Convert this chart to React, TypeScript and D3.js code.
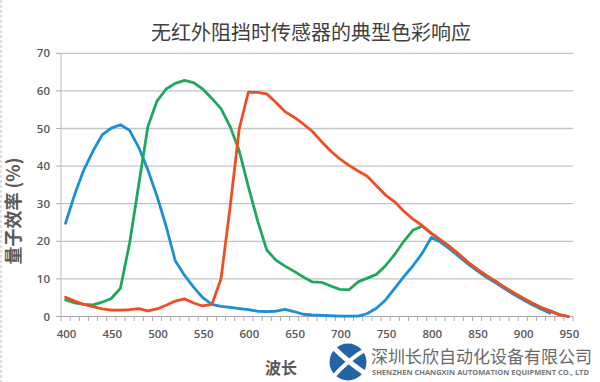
import React from "react";
import * as d3 from "d3";

const wavelengths = [400,410,420,430,440,450,460,470,480,490,500,510,520,530,540,550,560,570,580,590,600,610,620,630,640,650,660,670,680,690,700,710,720,730,740,750,760,770,780,790,800,810,820,830,840,850,860,870,880,890,900,910,920,930,940,950];

const blueValues: (number | null)[] = [24.8,32.5,39,44,48.3,50.1,51,49.5,45,39,32,24,14.8,11,7.8,5,3.2,2.7,2.4,2.1,1.8,1.4,1.3,1.4,1.9,1.3,0.6,0.4,0.3,0.2,0.1,0.1,0.1,0.8,2.2,4.4,7.5,10.6,13.5,16.8,21,19.8,18,16,14,12.2,10.5,9,7.4,5.9,4.5,3.2,2,0.9,null,null];

const greenValues: (number | null)[] = [4.4,3.6,3.2,3.1,3.8,4.8,7.5,19.5,35,50.5,57.3,60.5,62,62.8,62.2,60.5,58,55.3,50.5,44,34.5,25.5,17.7,15,13.4,12,10.5,9.2,9.1,8.1,7.2,7.1,9.2,10.2,11.2,13.5,16.5,20,23,24,22.1,20.4,18.6,16.6,14.4,12.6,10.9,9.4,7.8,6.3,4.9,3.6,2.4,1.5,0.5,0];

const redValues: (number | null)[] = [5.1,4.1,3.2,2.6,2.0,1.7,1.7,1.8,2.1,1.5,2.0,3.0,4.1,4.7,3.6,2.8,3.2,10,29.2,50,59.7,59.6,59.2,57,54.5,53,51.2,49.2,46.5,44,41.9,40.2,38.7,37.3,34.8,32.3,30.5,28,25.9,24.2,22.1,20.4,18.6,16.6,14.4,12.6,10.9,9.4,7.8,6.3,4.9,3.6,2.4,1.5,0.5,0];

const yTicks = [0,10,20,30,40,50,60,70];
const xTickLabels = [400,450,500,550,600,650,700,750,800,850,900,950];
const xMinorTicks = [395,405,415,425,435,445,455,465,475,485,495,505,515,525,535,545,555,565,575,585,595,605,615,625,635,645,655,665,675,685,695,705,715,725,735,745,755,765,775,785,795,805,815,825,835,845,855,865,875,885,895,905,915,925,935,945,955];

const series = [
  { name: "blue", values: blueValues, color: "#1d8fd3" },
  { name: "green", values: greenValues, color: "#1fa85c" },
  { name: "red", values: redValues, color: "#ef4d23" },
];

const title = "无红外阻挡时传感器的典型色彩响应";
const yTitle = "量子效率 (%)";
const xTitle = "波长";
const company = "深圳长欣自动化设备有限公司";
const companyEn = "SHENZHEN CHANGXIN AUTOMATION EQUIPMENT CO., LTD";

export default function App() {
  const W = 600, H = 382;
  const x = d3.scaleLinear().domain([395, 955]).range([61, 573]);
  const y = d3.scaleLinear().domain([0, 70]).range([316.5, 53.3]);
  const line = d3
    .line<number | null>()
    .defined((d) => d !== null)
    .x((_, i) => x(wavelengths[i]))
    .y((d) => y(d as number));

  const cjk = "'Noto Sans CJK SC', 'Noto Sans', sans-serif";
  const num = "'Open Sans', 'Noto Sans', sans-serif";

  return (
    <svg
      width={W}
      height={H}
      style={{ position: "absolute", left: 0, top: 0, background: "#fff" }}
    >
      <rect x={0} y={0} width={W} height={H} fill="#fff" />
      <line x1={1} x2={1} y1={0} y2={H} stroke="#bbb" strokeDasharray="3,2" />
      <text x={311} y={40} textAnchor="middle" fontFamily={cjk} fontSize={20} fill="#404040">
        {title}
      </text>

      {yTicks.map((t) => (
        <g key={t}>
          {t > 0 && (
            <line x1={61} x2={573} y1={y(t)} y2={y(t)} stroke="#c4c4c4" strokeWidth={1.3} />
          )}
          <line x1={56} x2={61} y1={y(t)} y2={y(t)} stroke="#aaa" />
          <text x={50} y={y(t) + 4} textAnchor="end" fontFamily={num} fontSize={11.5} fontWeight={600} fill="#595959">
            {t}
          </text>
        </g>
      ))}
      <line x1={61} x2={61} y1={53.3} y2={316.5} stroke="#bbb" />
      <line x1={61} x2={573} y1={316.5} y2={316.5} stroke="#aaa" strokeWidth={1.2} />
      {xMinorTicks.map((t) => (
        <line key={t} x1={x(t)} x2={x(t)} y1={316.5} y2={321} stroke="#aaa" />
      ))}
      {xTickLabels.map((t) => (
        <text key={t} x={x(t) + 1} y={338} textAnchor="middle" fontFamily={num} fontSize={11.5} fontWeight={600} fill="#595959">
          {t}
        </text>
      ))}

      {series.map((s) => (
        <path
          key={s.name}
          d={line(s.values) || ""}
          fill="none"
          stroke={s.color}
          strokeWidth={2.8}
          strokeLinejoin="round"
          strokeLinecap="round"
        />
      ))}

      <text
        transform={`translate(20, 211) rotate(-90)`}
        textAnchor="middle"
        fontFamily={cjk}
        fontSize={18}
        fontWeight={700}
        fill="#595959"
      >
        {yTitle}
      </text>

      <text x={265} y={374} fontFamily={cjk} fontSize={16} fontWeight={700} fill="#595959">
        {xTitle}
      </text>

      <g>
        <circle cx={348} cy={362} r={18.5} fill="#2563a8" />
        <path d="M334,348 Q348,362 366,374" stroke="#fff" strokeWidth={5} fill="none" strokeLinecap="round" />
        <path d="M333,377 Q350,358 365,350" stroke="#fff" strokeWidth={4} fill="none" strokeLinecap="round" />
        <text x={371} y={363} fontFamily={cjk} fontSize={17.5} fill="#6a6a6a" textLength={221} lengthAdjust="spacingAndGlyphs">
          {company}
        </text>
        <text x={372} y={375} fontFamily={num} fontSize={7.5} fontWeight={700} fill="#777" textLength={217} lengthAdjust="spacingAndGlyphs">
          {companyEn}
        </text>
      </g>
    </svg>
  );
}
